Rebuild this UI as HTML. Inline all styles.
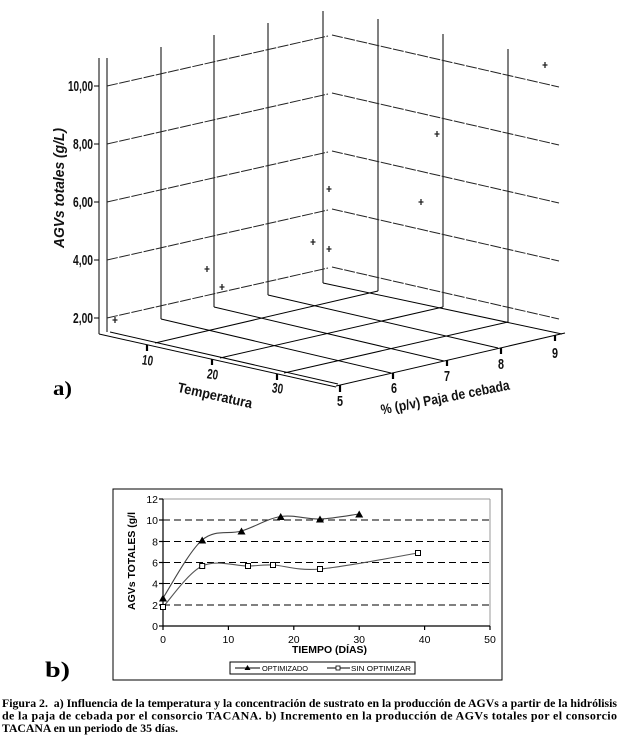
<!DOCTYPE html>
<html>
<head>
<meta charset="utf-8">
<style>
html,body{margin:0;padding:0;background:#fff;}
svg{display:block;}
</style>
</head>
<body>
<svg width="621" height="746" viewBox="0 0 621 746" xmlns="http://www.w3.org/2000/svg">
<rect x="0" y="0" width="621" height="746" fill="#fff"/>

<!-- ================= CHART A ================= -->
<g stroke="#000" stroke-width="1" fill="none">
  <line x1="99" y1="58" x2="99" y2="334"/>
  <line x1="107" y1="58" x2="107" y2="332"/>
  <line x1="94" y1="86" x2="99" y2="86"/>
  <line x1="94" y1="144" x2="99" y2="144"/>
  <line x1="94" y1="202" x2="99" y2="202"/>
  <line x1="94" y1="260" x2="99" y2="260"/>
  <line x1="94" y1="318" x2="99" y2="318"/>
  <line x1="161" y1="47" x2="161" y2="319"/>
  <line x1="214" y1="35" x2="214" y2="307"/>
  <line x1="268" y1="23" x2="268" y2="295"/>
  <line x1="323" y1="11" x2="323" y2="283"/>
  <line x1="378" y1="19" x2="378" y2="291"/>
  <line x1="443" y1="34" x2="443" y2="307"/>
  <line x1="508" y1="49" x2="508" y2="322"/>
</g>

<g stroke="#222" stroke-width="1" stroke-dasharray="11 1.5" fill="none">
  <line x1="107" y1="86" x2="328" y2="36"/>
  <line x1="107" y1="144" x2="328" y2="94"/>
  <line x1="107" y1="202" x2="328" y2="152"/>
  <line x1="107" y1="260" x2="328" y2="210"/>
  <line x1="107" y1="318" x2="328" y2="268"/>
  <line x1="332" y1="35" x2="559" y2="87"/>
  <line x1="332" y1="93" x2="559" y2="145"/>
  <line x1="332" y1="151" x2="559" y2="203"/>
  <line x1="332" y1="209" x2="559" y2="261"/>
  <line x1="332" y1="267" x2="559" y2="319"/>
</g>

<g stroke="#000" stroke-width="1" fill="none">
  <line x1="110" y1="332" x2="338" y2="384"/>
  <line x1="99" y1="334" x2="336" y2="387"/>
  <line x1="336" y1="386" x2="565" y2="333"/>
  <line x1="323" y1="283" x2="562" y2="334"/>
  <line x1="155" y1="343" x2="378" y2="291"/>
  <line x1="220" y1="358" x2="443" y2="307"/>
  <line x1="284" y1="373" x2="508" y2="322"/>
  <line x1="161" y1="319" x2="391" y2="373"/>
  <line x1="214" y1="307" x2="444" y2="361"/>
  <line x1="268" y1="295" x2="498" y2="348"/>
</g>

<g stroke="#000" stroke-width="2.2">
  <line x1="147" y1="345" x2="147" y2="351"/>
  <line x1="212" y1="359" x2="212" y2="365"/>
  <line x1="277" y1="374" x2="277" y2="380"/>
  <line x1="340" y1="385" x2="340" y2="392"/>
  <line x1="393" y1="373" x2="393" y2="379"/>
  <line x1="447" y1="360" x2="447" y2="366"/>
  <line x1="501" y1="348" x2="501" y2="354"/>
  <line x1="555" y1="335" x2="555" y2="341"/>
</g>

<g stroke="#222" stroke-width="1.3" fill="none">
  <path d="M542.5 65h5M545 62v6"/>
  <path d="M434.5 134h5M437 131v6"/>
  <path d="M326.5 189h5M329 186v6"/>
  <path d="M418.5 202h5M421 199v6"/>
  <path d="M310.5 242h5M313 239v6"/>
  <path d="M326.5 249h5M329 246v6"/>
  <path d="M204.5 269h5M207 266v6"/>
  <path d="M219.5 287h5M222 284v6"/>
  <path d="M112.5 320h5M115 317v6"/>
</g>

<g font-family="'Liberation Sans', Arial, sans-serif" font-weight="bold" fill="#111">
  <text x="93" y="91" font-size="15" text-anchor="end" textLength="25" lengthAdjust="spacingAndGlyphs">10,00</text>
  <text x="93" y="149" font-size="15" text-anchor="end" textLength="20" lengthAdjust="spacingAndGlyphs">8,00</text>
  <text x="93" y="207" font-size="15" text-anchor="end" textLength="20" lengthAdjust="spacingAndGlyphs">6,00</text>
  <text x="93" y="265" font-size="15" text-anchor="end" textLength="20" lengthAdjust="spacingAndGlyphs">4,00</text>
  <text x="93" y="323" font-size="15" text-anchor="end" textLength="20" lengthAdjust="spacingAndGlyphs">2,00</text>

  <text x="64" y="188" font-size="15" font-style="italic" text-anchor="middle" transform="rotate(-90 64 188)" textLength="120" lengthAdjust="spacingAndGlyphs">AGVs totales (g/L)</text>

  <text x="147" y="365" font-size="14" text-anchor="middle" transform="rotate(8 147 365)" textLength="11" lengthAdjust="spacingAndGlyphs">10</text>
  <text x="212" y="379" font-size="14" text-anchor="middle" transform="rotate(8 212 379)" textLength="11" lengthAdjust="spacingAndGlyphs">20</text>
  <text x="277" y="393" font-size="14" text-anchor="middle" transform="rotate(8 277 393)" textLength="11" lengthAdjust="spacingAndGlyphs">30</text>

  <text x="214" y="400" font-size="14" text-anchor="middle" transform="rotate(12.5 214 400)" textLength="76" lengthAdjust="spacingAndGlyphs">Temperatura</text>

  <text x="340" y="406" font-size="15" text-anchor="middle" textLength="6" lengthAdjust="spacingAndGlyphs">5</text>
  <text x="394" y="393" font-size="15" text-anchor="middle" textLength="6" lengthAdjust="spacingAndGlyphs">6</text>
  <text x="447" y="381" font-size="15" text-anchor="middle" textLength="6" lengthAdjust="spacingAndGlyphs">7</text>
  <text x="501" y="369" font-size="15" text-anchor="middle" textLength="6" lengthAdjust="spacingAndGlyphs">8</text>
  <text x="555" y="358" font-size="15" text-anchor="middle" textLength="6" lengthAdjust="spacingAndGlyphs">9</text>

  <text x="446" y="402" font-size="14" text-anchor="middle" transform="rotate(-11 446 402)" textLength="131" lengthAdjust="spacingAndGlyphs">% (p/v) Paja de cebada</text>
</g>
<text x="53" y="395" font-family="'Liberation Serif', 'Times New Roman', serif" font-weight="bold" font-size="20" textLength="19" lengthAdjust="spacingAndGlyphs" fill="#000">a)</text>

<!-- ================= CHART B ================= -->
<rect x="113" y="489" width="389" height="191" fill="#fff" stroke="#000" stroke-width="1"/>
<line x1="163" y1="499" x2="490" y2="499" stroke="#999" stroke-width="1"/>
<line x1="490" y1="499" x2="490" y2="626" stroke="#999" stroke-width="1"/>
<g stroke="#000" stroke-width="1" stroke-dasharray="7 4">
  <line x1="163" y1="520" x2="490" y2="520"/>
  <line x1="163" y1="541.5" x2="490" y2="541.5"/>
  <line x1="163" y1="562.5" x2="490" y2="562.5"/>
  <line x1="163" y1="583.5" x2="490" y2="583.5"/>
  <line x1="163" y1="605" x2="490" y2="605"/>
</g>
<g stroke="#000" stroke-width="1.2">
  <line x1="163" y1="499" x2="163" y2="626"/>
  <line x1="163" y1="626" x2="490" y2="626"/>
  <line x1="159" y1="499" x2="163" y2="499"/>
  <line x1="159" y1="520" x2="163" y2="520"/>
  <line x1="159" y1="541.5" x2="163" y2="541.5"/>
  <line x1="159" y1="562.5" x2="163" y2="562.5"/>
  <line x1="159" y1="583.5" x2="163" y2="583.5"/>
  <line x1="159" y1="605" x2="163" y2="605"/>
  <line x1="159" y1="626" x2="163" y2="626"/>
  <line x1="163" y1="626" x2="163" y2="630"/>
  <line x1="228.4" y1="626" x2="228.4" y2="630"/>
  <line x1="293.8" y1="626" x2="293.8" y2="630"/>
  <line x1="359.2" y1="626" x2="359.2" y2="630"/>
  <line x1="424.6" y1="626" x2="424.6" y2="630"/>
  <line x1="490" y1="626" x2="490" y2="630"/>
</g>

<path d="M163 598 C169.5 588.3 189.1 551.2 202.2 540 C215.3 528.8 228.4 534.9 241.5 531 C254.6 527.1 267.6 518.5 280.7 516.5 C293.8 514.5 306.9 519.4 320 519 C333.1 518.6 352.7 514.8 359.2 514" fill="none" stroke="#444" stroke-width="1.1"/>
<path d="M163 607 C169.5 600.2 188 572.8 202.2 566 C216.4 559.2 236.2 566.2 248 566 C259.8 565.8 261 564.5 273 565 C285 565.5 295.8 571 320 569 C344.2 567 401.7 555.7 418 553" fill="none" stroke="#555" stroke-width="1.1"/>

<g fill="#000">
  <path d="M163 594.5 L167 601.5 L159 601.5 Z"/>
  <path d="M202.2 536.5 L206.2 543.5 L198.2 543.5 Z"/>
  <path d="M241.5 527.5 L245.5 534.5 L237.5 534.5 Z"/>
  <path d="M280.7 513 L284.7 520 L276.7 520 Z"/>
  <path d="M320 515.5 L324 522.5 L316 522.5 Z"/>
  <path d="M359.2 510.5 L363.2 517.5 L355.2 517.5 Z"/>
</g>
<g fill="#fff" stroke="#000" stroke-width="1">
  <rect x="160.5" y="604.5" width="5" height="5"/>
  <rect x="199.7" y="563.5" width="5" height="5"/>
  <rect x="245.5" y="563.5" width="5" height="5"/>
  <rect x="270.5" y="562.5" width="5" height="5"/>
  <rect x="317.5" y="566.5" width="5" height="5"/>
  <rect x="415.5" y="550.5" width="5" height="5"/>
</g>

<g font-family="'Liberation Sans', Arial, sans-serif" font-size="10.5" fill="#000">
  <text x="158" y="503" text-anchor="end">12</text>
  <text x="158" y="524" text-anchor="end">10</text>
  <text x="158" y="545.5" text-anchor="end">8</text>
  <text x="158" y="566.5" text-anchor="end">6</text>
  <text x="158" y="587.5" text-anchor="end">4</text>
  <text x="158" y="609" text-anchor="end">2</text>
  <text x="158" y="630" text-anchor="end">0</text>
  <text x="163" y="643" text-anchor="middle">0</text>
  <text x="228.4" y="643" text-anchor="middle">10</text>
  <text x="293.8" y="643" text-anchor="middle">20</text>
  <text x="359.2" y="643" text-anchor="middle">30</text>
  <text x="424.6" y="643" text-anchor="middle">40</text>
  <text x="490" y="643" text-anchor="middle">50</text>
  <text x="329.5" y="653" text-anchor="middle" font-weight="bold" textLength="75" lengthAdjust="spacingAndGlyphs">TIEMPO (DÍAS)</text>
  <text x="135" y="561" text-anchor="middle" font-weight="bold" font-size="10" transform="rotate(-90 135 561)" textLength="98" lengthAdjust="spacingAndGlyphs">AGVs TOTALES (g/l</text>
</g>

<rect x="230" y="662" width="185" height="12" fill="#fff" stroke="#000" stroke-width="1"/>
<line x1="235" y1="668" x2="260" y2="668" stroke="#000" stroke-width="1"/>
<path d="M247.5 665 L250.5 670 L244.5 670 Z" fill="#000"/>
<line x1="327" y1="668" x2="350" y2="668" stroke="#000" stroke-width="1"/>
<rect x="336" y="666" width="4" height="4" fill="#fff" stroke="#000" stroke-width="0.8"/>
<g font-family="'Liberation Sans', Arial, sans-serif" font-size="7.5" fill="#000">
  <text x="262" y="671" textLength="46" lengthAdjust="spacingAndGlyphs">OPTIMIZADO</text>
  <text x="351" y="671" textLength="60" lengthAdjust="spacingAndGlyphs">SIN OPTIMIZAR</text>
</g>

<text x="45" y="677" font-family="'Liberation Serif', 'Times New Roman', serif" font-weight="bold" font-size="22" textLength="25" lengthAdjust="spacingAndGlyphs" fill="#000">b)</text>

<g font-family="'Liberation Serif', 'Times New Roman', serif" font-weight="bold" font-size="12" fill="#000">
  <text x="2" y="707" textLength="615" lengthAdjust="spacingAndGlyphs" xml:space="preserve">Figura 2.  a) Influencia de la temperatura y la concentración de sustrato en la producción de AGVs a partir de la hidrólisis</text>
  <text x="2" y="719.5" textLength="615" lengthAdjust="spacing">de la paja de cebada por el consorcio TACANA. b) Incremento en la producción de AGVs totales por el consorcio</text>
  <text x="2" y="732" textLength="176" lengthAdjust="spacingAndGlyphs">TACANA en un periodo de 35 días.</text>
</g>
</svg>
</body>
</html>
